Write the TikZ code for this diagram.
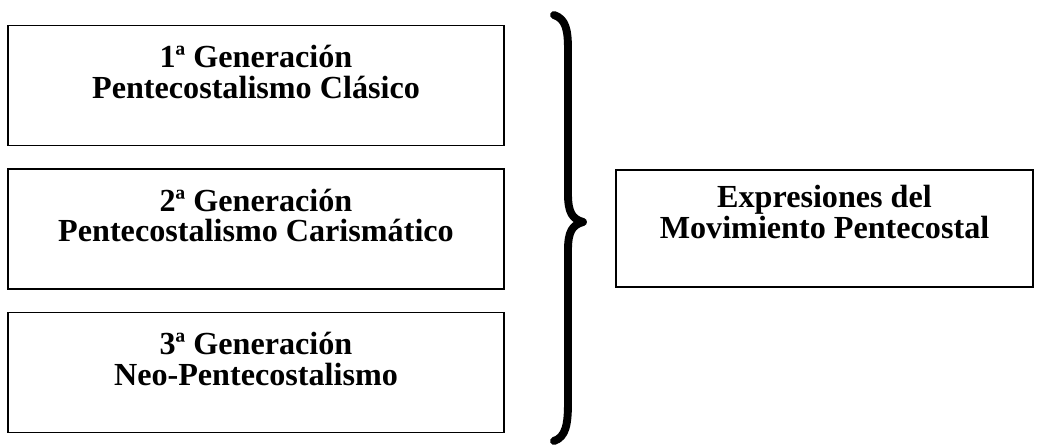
\documentclass[tikz,border=0pt]{standalone}
\usepackage{fontspec}
\setmainfont{Liberation Serif}
\usetikzlibrary{positioning}
\tikzstyle{genbox} = [draw, line width=1pt, minimum width=9.92cm, minimum height=2.4cm, inner sep=0pt]
\tikzstyle{gentext} = [font=\fontsize{18.3}{17.6}\selectfont\bfseries, align=center, inner sep=0pt]

\begin{document}
\begin{tikzpicture}[x=0.02cm,y=-0.02cm]
\useasboundingbox (0,0) rectangle (1037,445);

% generaciones
\node[genbox] (gen1) at (256,85.5) {};
\node[genbox] (gen2) at (256,229) {};
\node[genbox] (gen3) at (256,372.5) {};
\node[gentext] (gen1txt) at ([yshift=0.27cm]gen1.center) {1ª Generación\\Pentecostalismo Clásico};
\node[gentext] (gen2txt) at ([yshift=0.27cm]gen2.center) {2ª Generación\\Pentecostalismo Carismático};
\node[gentext] (gen3txt) at ([yshift=0.27cm]gen3.center) {3ª Generación\\Neo-Pentecostalismo};

% llave
\draw[line width=4.5pt, line join=round, line cap=round] (554,15) .. controls (566,19) and (568,30) .. (568,50) -- (568,194)
  .. controls (568,212) and (572,219) .. (583,222)
  .. controls (572,225) and (568,232) .. (568,250) -- (568,402)
  .. controls (568,424) and (566,437) .. (554,441);

% expresiones
\node[genbox, minimum width=8.34cm, minimum height=2.34cm] (expr) at (824.5,228.5) {};
\node[gentext] (exprtxt) at ([yshift=0.33cm]expr.center) {Expresiones del\\Movimiento Pentecostal};
\end{tikzpicture}
\end{document}
